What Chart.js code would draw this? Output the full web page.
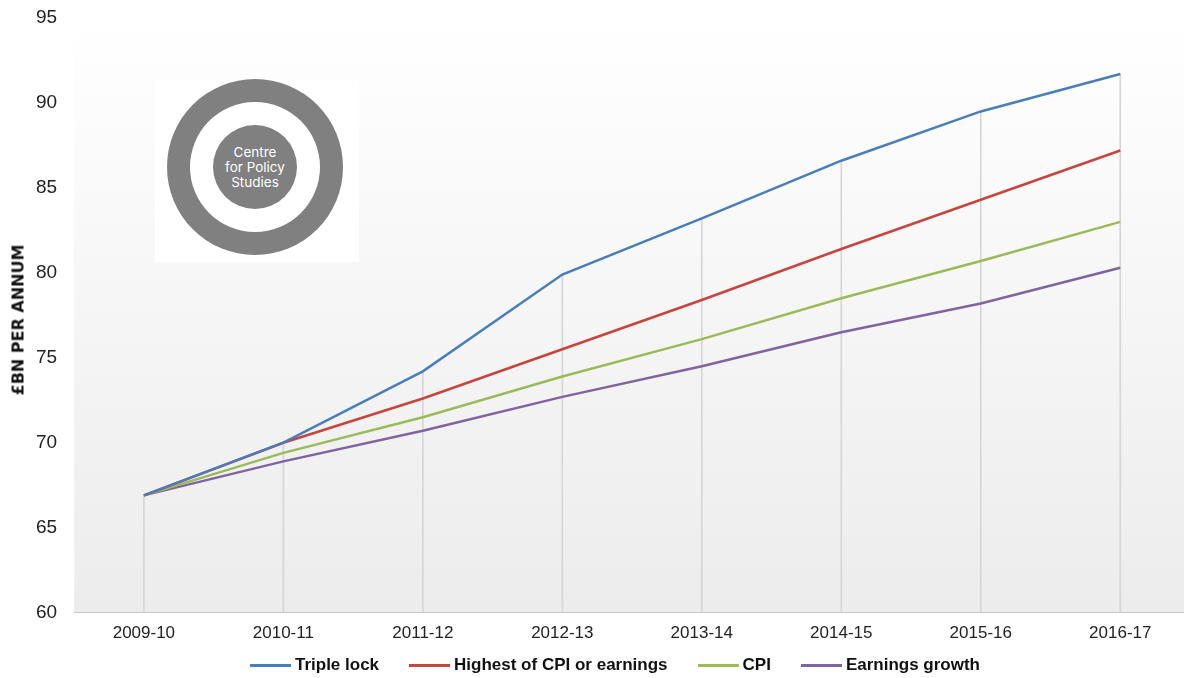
<!DOCTYPE html>
<html>
<head>
<meta charset="utf-8">
<script src="https://cdn.jsdelivr.net/npm/chart.js@4.4.0/dist/chart.umd.min.js"></script>
<style>
  body { margin: 0; background: #fff; overflow: hidden; width: 1184px; height: 678px; position: relative; }
  #wrap { position: absolute; left: 0; top: 0; width: 1190px; height: 682px; }
  #yTitle {
    position: absolute; left: 18px; top: 320px;
    transform: translate(-50%, -50%) rotate(-90deg);
    font: bold 16px 'DejaVu Sans', sans-serif; color: #111; white-space: nowrap;
  }
  #logoBox { position: absolute; left: 155px; top: 80px; width: 204px; height: 182px; background: #fff; }
  .disc { position: absolute; border-radius: 50%; transform: translate(-50%, -50%); left: 255px; top: 167px; }
  #ring { width: 176px; height: 176px; background: #808080; }
  #gap { width: 130px; height: 130px; background: #fff; }
  #core {
    width: 84px; height: 84px; background: #808080; color: #fff;
    display: flex; align-items: center; justify-content: center; text-align: center;
    font: 13.5px/15px 'Inter', 'Liberation Sans', sans-serif;
  }
  #legend {
    position: absolute; left: 0; width: 1230px; top: 654px; height: 22px;
    display: flex; justify-content: center; align-items: center; gap: 30px;
    font: bold 17px 'Liberation Sans', sans-serif; color: #111;
  }
  #legend .item { display: flex; align-items: center; white-space: nowrap; }
  #legend .swatch { width: 41px; height: 3px; margin-right: 4px; }
</style>
</head>
<body>
<div id="wrap"><canvas id="chart" width="1190" height="682"></canvas></div>
<div id="yTitle">£BN PER ANNUM</div>
<div id="logoBox"></div>
<div id="ring" class="disc"></div>
<div id="gap" class="disc"></div>
<div id="core" class="disc">Centre<br>for Policy<br>Studies</div>
<div id="legend"></div>
<script>
const years = ['2009-10', '2010-11', '2011-12', '2012-13', '2013-14', '2014-15', '2015-16', '2016-17'];
const tripleLock = [66.9, 70.0, 74.2, 79.9, 83.2, 86.6, 89.5, 91.7];
const highestCpiEarnings = [66.9, 70.0, 72.6, 75.5, 78.4, 81.4, 84.3, 87.2];
const cpi = [66.9, 69.4, 71.5, 73.9, 76.1, 78.5, 80.7, 83.0];
const earningsGrowth = [66.9, 68.9, 70.7, 72.7, 74.5, 76.5, 78.2, 80.3];
const yMin = 60, yMax = 95, yStep = 5;

// soft grey fade behind the plot
const plotBackground = {
  id: 'plotBackground',
  beforeDraw(chart) {
    const { ctx, chartArea: a } = chart;
    const g = ctx.createLinearGradient(0, a.top, 0, a.bottom);
    g.addColorStop(0, '#ffffff');
    g.addColorStop(1, '#ececec');
    ctx.save();
    ctx.fillStyle = g;
    ctx.fillRect(a.left, a.top, a.right - a.left, a.bottom - a.top);
    ctx.restore();
  }
};

// legend built from the chart's own legend items
const htmlLegend = {
  id: 'htmlLegend',
  afterUpdate(chart) {
    const box = document.getElementById('legend');
    box.innerHTML = '';
    const items = Chart.defaults.plugins.legend.labels.generateLabels(chart);
    items.filter(i => i.text !== '').forEach(i => {
      const el = document.createElement('div');
      el.className = 'item';
      const sw = document.createElement('span');
      sw.className = 'swatch';
      sw.style.background = i.strokeStyle;
      el.appendChild(sw);
      el.appendChild(document.createTextNode(i.text));
      box.appendChild(el);
    });
  }
};

function line(label, data, color) {
  return {
    type: 'line', label, data,
    borderColor: color, backgroundColor: color,
    borderWidth: 2.5, pointRadius: 0, tension: 0, order: 1
  };
}

new Chart(document.getElementById('chart'), {
  data: {
    labels: years,
    datasets: [
      line('Triple lock', tripleLock, '#4a7ebb'),
      line('Highest of CPI or earnings', highestCpiEarnings, '#c8443f'),
      line('CPI', cpi, '#9bbb59'),
      line('Earnings growth', earningsGrowth, '#8064a2'),
      // thin drop lines under the top series
      { type: 'bar', label: '', data: tripleLock, barThickness: 1, backgroundColor: '#d6d6d6', order: 10 }
    ]
  },
  options: {
    responsive: false,
    animation: false,
    layout: { padding: { left: 33, right: 0, top: 18, bottom: 27 } },
    plugins: {
      tooltip: { enabled: false },
      legend: { display: false }
    },
    scales: {
      x: {
        offset: true,
        grid: { display: false, drawTicks: false },
        border: { display: true, color: '#c8c8c8', width: 1 },
        ticks: { padding: 11, color: '#222', font: { family: 'Liberation Sans', size: 17 } }
      },
      y: {
        min: yMin, max: yMax,
        grid: { display: true, drawOnChartArea: false, drawTicks: true, tickLength: 14, tickColor: 'rgba(0,0,0,0)' },
        border: { display: false },
        ticks: { stepSize: yStep, padding: 3, color: '#222', font: { family: 'Liberation Sans', size: 19 } }
      }
    }
  },
  plugins: [plotBackground, htmlLegend]
});
</script>
</body>
</html>
